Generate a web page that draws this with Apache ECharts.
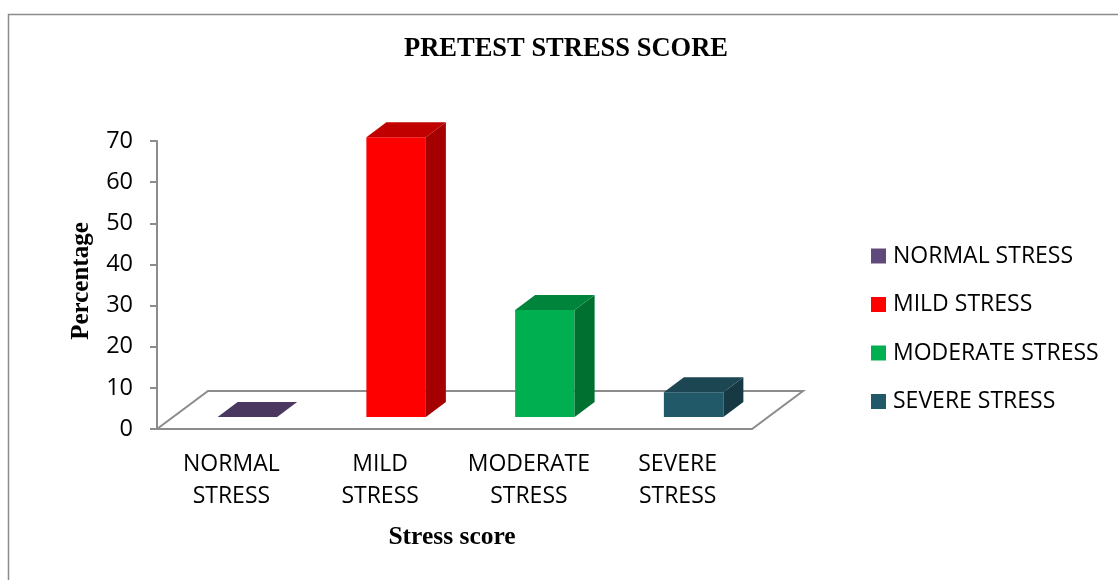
<!DOCTYPE html>
<html>
<head>
<meta charset="utf-8">
<script src="https://cdn.jsdelivr.net/npm/echarts@6/dist/echarts.min.js"></script>
<style>
html,body{margin:0;padding:0;background:#fff;}
#chart{width:1118px;height:580px;}
</style>
</head>
<body>
<div id="chart"></div>
<script>
// ---- data ----
const categories = ['NORMAL STRESS', 'MILD STRESS', 'MODERATE STRESS', 'SEVERE STRESS'];
const tickLabels = ['NORMAL\nSTRESS', 'MILD\nSTRESS', 'MODERATE\nSTRESS', 'SEVERE\nSTRESS'];
const values = [0, 68, 26, 6];
const yTicks = [0, 10, 20, 30, 40, 50, 60, 70];
const frontColors = ['#604A7B', '#FF0000', '#00B050', '#215968'];
const topColors = ['#4A3860', '#C00000', '#00843C', '#1B4652'];
const sideColors = ['#3E2F51', '#A50000', '#007030', '#163944'];

// ---- 3D geometry (pixels) ----
const FLOOR_DX = 51, FLOOR_DY = -38;   // depth of floor
const BAR_SHIFT_X = 16, BAR_SHIFT_Y = -12; // bar placed into depth
const BAR_DX = 20, BAR_DY = -15;       // bar own depth
const BAR_W_RATIO = 0.4;

const chart = echarts.init(document.getElementById('chart'), null, {renderer: 'canvas'});

function barRender(ci) {
  return function (params, api) {
    const cat = api.value(0);
    const v = api.value(1);
    const base = api.coord([cat, 0]);
    const top = api.coord([cat, v]);
    const bw = api.size([1, 0])[0] * BAR_W_RATIO;
    const x0 = base[0] + BAR_SHIFT_X - bw / 2;
    const x1 = x0 + bw;
    const yb = base[1] + BAR_SHIFT_Y;
    const yt = top[1] + BAR_SHIFT_Y;
    const children = [];
    if (yb - yt > 0.5) {
      children.push({type: 'polygon', shape: {points: [[x0, yb], [x1, yb], [x1, yt], [x0, yt]]},
        style: {fill: frontColors[ci]}});
      children.push({type: 'polygon', shape: {points: [[x1, yb], [x1 + BAR_DX, yb + BAR_DY], [x1 + BAR_DX, yt + BAR_DY], [x1, yt]]},
        style: {fill: sideColors[ci]}});
    }
    children.push({type: 'polygon', shape: {points: [[x0, yt], [x1, yt], [x1 + BAR_DX, yt + BAR_DY], [x0 + BAR_DX, yt + BAR_DY]]},
      style: {fill: topColors[ci]}});
    return {type: 'group', children: children};
  };
}

const series = [{
  type: 'custom',
  name: 'floor',
  silent: true,
  clip: false,
  z: 1,
  data: [[0, 0]],
  encode: {x: 0, y: 1},
  renderItem: function (params, api) {
    const cs = params.coordSys;
    const x = cs.x, w = cs.width, yb = cs.y + cs.height;
    return {
      type: 'polygon',
      shape: {points: [[x, yb], [x + w, yb], [x + w + FLOOR_DX, yb + FLOOR_DY], [x + FLOOR_DX, yb + FLOOR_DY]]},
      style: {fill: '#ffffff', stroke: '#8c8c8c', lineWidth: 2}
    };
  }
}];
categories.forEach(function (name, i) {
  series.push({
    type: 'custom',
    name: name,
    clip: false,
    z: 3,
    itemStyle: {color: frontColors[i]},
    data: [[i, values[i]]],
    encode: {x: 0, y: 1},
    renderItem: barRender(i)
  });
});

const sansFont = '"Open Sans", "Liberation Sans", sans-serif';
const serifFont = '"Liberation Serif", "DejaVu Serif", serif';

chart.setOption({
  animation: false,
  backgroundColor: '#ffffff',
  grid: {left: 157, top: 141, width: 595, height: 288, containLabel: false},
  xAxis: {
    type: 'category',
    data: tickLabels,
    axisLine: {show: false},
    axisTick: {show: false},
    splitLine: {show: false},
    axisLabel: {color: '#000', fontFamily: sansFont, fontSize: 23, lineHeight: 32, margin: 19, interval: 0}
  },
  yAxis: {
    type: 'value',
    min: 0, max: 70, interval: 10,
    axisLine: {show: true, lineStyle: {color: '#8c8c8c', width: 2}},
    axisTick: {show: true, length: 7, lineStyle: {color: '#8c8c8c', width: 2}},
    splitLine: {show: false},
    axisLabel: {color: '#000', fontFamily: sansFont, fontSize: 23.5, margin: 24,
      formatter: function (v) { return yTicks.indexOf(v) >= 0 ? String(v) : ''; }}
  },
  legend: {
    orient: 'vertical',
    left: 866, top: 239,
    itemWidth: 15, itemHeight: 15, itemGap: 24.5,
    icon: 'rect',
    data: categories,
    textStyle: {color: '#000', fontFamily: sansFont, fontSize: 23, lineHeight: 24, padding: [0, 0, 0, 2]}
  },
  graphic: [
    {type: 'rect', left: 6, top: 12, silent: true, z: -10,
      shape: {width: 1130, height: 600}, style: {fill: 'none', stroke: '#8c8c8c', lineWidth: 1.5}},
    {type: 'text', x: 566, y: 49, silent: true,
      style: {text: 'PRETEST STRESS SCORE', fill: '#000', font: 'bold 26.5px ' + serifFont, textAlign: 'center', textVerticalAlign: 'middle'}},
    {type: 'text', x: 452, y: 537, silent: true,
      style: {text: 'Stress score', fill: '#000', font: 'bold 25.5px ' + serifFont, textAlign: 'center', textVerticalAlign: 'middle'}},
    {type: 'text', x: 82, y: 281, rotation: Math.PI / 2, silent: true,
      style: {text: 'Percentage', fill: '#000', font: 'bold 25px ' + serifFont, textAlign: 'center', textVerticalAlign: 'middle'}}
  ],
  series: series
});
</script>
</body>
</html>
